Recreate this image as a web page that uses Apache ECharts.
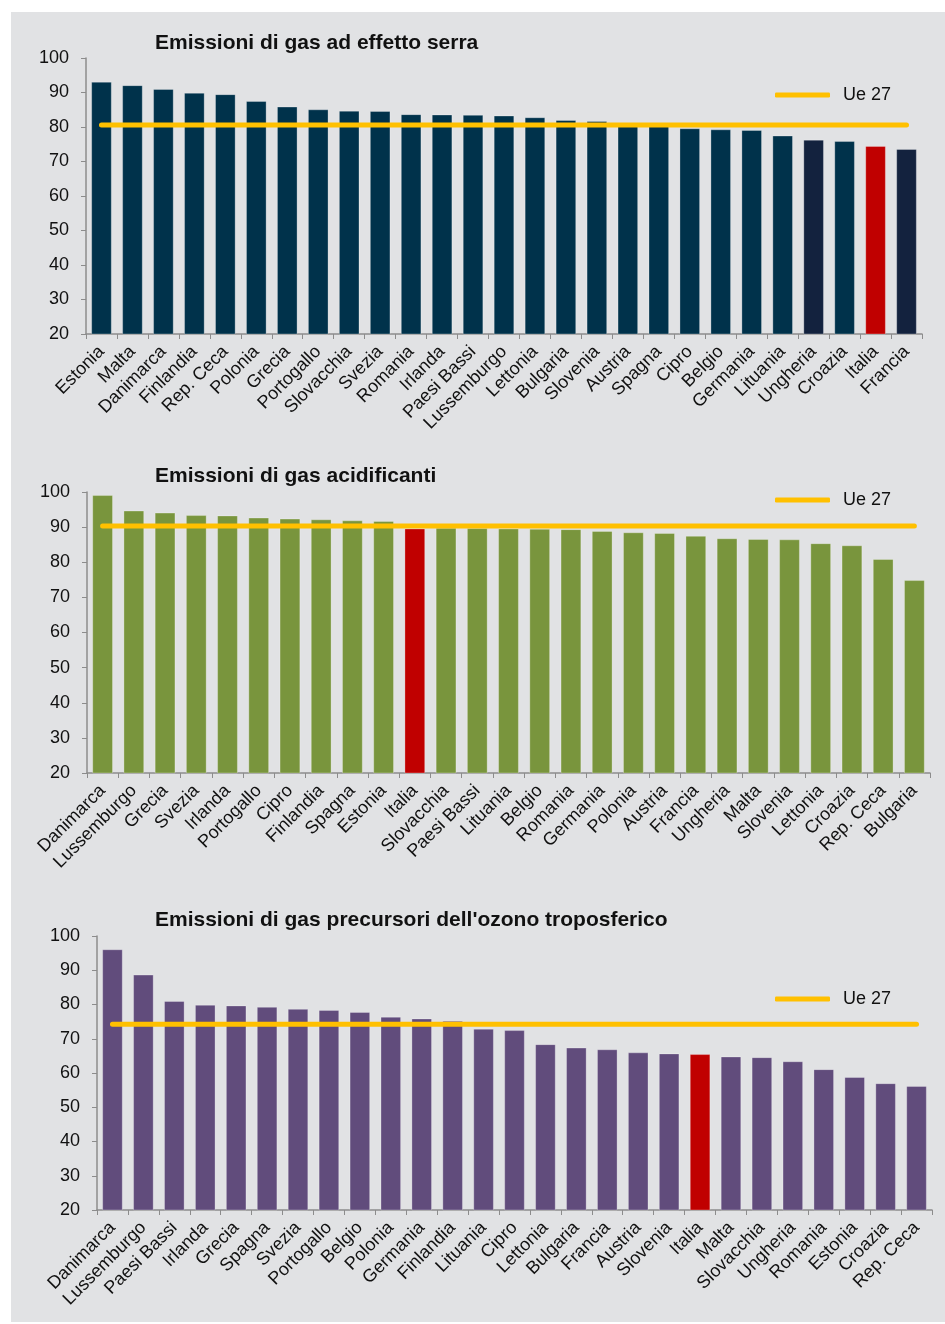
<!DOCTYPE html>
<html>
<head>
<meta charset="utf-8">
<style>
  html, body { margin: 0; padding: 0; background: #fff; }
  #panel { position: absolute; left: 11px; top: 12px; width: 934px; height: 1310px; background: #e1e2e4; }
  #chart { position: absolute; left: 0; top: 0; width: 945px; height: 1324px; }
</style>
<script src="https://cdn.jsdelivr.net/npm/echarts@6/dist/echarts.min.js"></script>
</head>
<body>
<div id="panel"></div>
<div id="chart"></div>
<script>
// Emissioni di gas ad effetto serra
const serraCountries = ['Estonia', 'Malta', 'Danimarca', 'Finlandia', 'Rep. Ceca', 'Polonia', 'Grecia', 'Portogallo', 'Slovacchia', 'Svezia', 'Romania', 'Irlanda', 'Paesi Bassi', 'Lussemburgo', 'Lettonia', 'Bulgaria', 'Slovenia', 'Austria', 'Spagna', 'Cipro', 'Belgio', 'Germania', 'Lituania', 'Ungheria', 'Croazia', 'Italia', 'Francia'];
const serraValues = [93.1, 92.1, 91.0, 89.9, 89.5, 87.5, 85.9, 85.1, 84.7, 84.6, 83.7, 83.6, 83.5, 83.3, 82.8, 82.0, 81.7, 80.7, 80.3, 79.6, 79.3, 79.1, 77.5, 76.3, 75.9, 74.5, 73.6];
const serraUe27 = 80.6;

// Emissioni di gas acidificanti
const acidCountries = ['Danimarca', 'Lussemburgo', 'Grecia', 'Svezia', 'Irlanda', 'Portogallo', 'Cipro', 'Finlandia', 'Spagna', 'Estonia', 'Italia', 'Slovacchia', 'Paesi Bassi', 'Lituania', 'Belgio', 'Romania', 'Germania', 'Polonia', 'Austria', 'Francia', 'Ungheria', 'Malta', 'Slovenia', 'Lettonia', 'Croazia', 'Rep. Ceca', 'Bulgaria'];
const acidValues = [99.1, 94.7, 94.1, 93.4, 93.3, 92.7, 92.4, 92.2, 91.9, 91.7, 89.6, 89.8, 89.7, 89.6, 89.5, 89.4, 88.9, 88.5, 88.3, 87.5, 86.8, 86.6, 86.5, 85.4, 84.8, 80.9, 74.9];
const acidUe27 = 90.3;

// Emissioni di gas precursori dell'ozono troposferico
const ozonoCountries = ['Danimarca', 'Lussemburgo', 'Paesi Bassi', 'Irlanda', 'Grecia', 'Spagna', 'Svezia', 'Portogallo', 'Belgio', 'Polonia', 'Germania', 'Finlandia', 'Lituania', 'Cipro', 'Lettonia', 'Bulgaria', 'Francia', 'Austria', 'Slovenia', 'Italia', 'Malta', 'Slovacchia', 'Ungheria', 'Romania', 'Estonia', 'Croazia', 'Rep. Ceca'];
const ozonoValues = [96.1, 88.7, 81.0, 79.9, 79.7, 79.3, 78.7, 78.4, 77.8, 76.4, 75.9, 75.2, 72.9, 72.5, 68.4, 67.4, 66.9, 66.0, 65.7, 65.5, 64.8, 64.6, 63.4, 61.1, 58.8, 57.0, 56.2];
const ozonoUe27 = 74.2;

const yTicks = { min: 20, max: 100, interval: 10 };

const FONT = 'Liberation Sans, Arial, sans-serif';
const RED = '#c00000';
const YELLOW = '#ffc000';
const NAVY = '#13223e';

const panels = [
  { title: 'Emissioni di gas ad effetto serra', cats: serraCountries, vals: serraValues, ue: serraUe27,
    color: '#00324b', special: { 'Ungheria': NAVY, 'Francia': NAVY },
    grid: { left: 86, right: 23, top: 58, height: 276 }, titleTop: 28, legendTop: 81 },
  { title: 'Emissioni di gas acidificanti', cats: acidCountries, vals: acidValues, ue: acidUe27,
    color: '#79953d', special: {},
    grid: { left: 87, right: 15, top: 492, height: 281 }, titleTop: 461, legendTop: 486 },
  { title: "Emissioni di gas precursori dell'ozono troposferico", cats: ozonoCountries, vals: ozonoValues, ue: ozonoUe27,
    color: '#614c7c', special: {},
    grid: { left: 97, right: 13, top: 936, height: 274 }, titleTop: 905, legendTop: 985 }
];

const option = {
  animation: false,
  textStyle: { fontFamily: FONT },
  title: [], legend: [], grid: [], xAxis: [], yAxis: [], series: []
};

panels.forEach((p, i) => {
  option.title.push({
    text: p.title, left: 150, top: p.titleTop,
    textStyle: { fontFamily: FONT, fontSize: 21, fontWeight: 'bold', color: '#111' }
  });
  option.grid.push(Object.assign({ containLabel: false }, p.grid));
  option.xAxis.push({
    type: 'category', gridIndex: i, data: p.cats,
    axisLine: { lineStyle: { color: '#8c8c8c', width: 1.5 } },
    axisTick: { show: true, alignWithLabel: false, length: 5, lineStyle: { color: '#8c8c8c' } },
    axisLabel: { interval: 0, rotate: 45, margin: 15, fontSize: 18, color: '#111', fontFamily: FONT }
  });
  option.yAxis.push({
    type: 'value', gridIndex: i, min: yTicks.min, max: yTicks.max, interval: yTicks.interval,
    axisLine: { show: true, lineStyle: { color: '#8c8c8c', width: 1.5 } },
    axisTick: { show: true, length: 5, lineStyle: { color: '#8c8c8c' } },
    splitLine: { show: false },
    axisLabel: { fontSize: 18, color: '#111', margin: 17, fontFamily: FONT }
  });
  option.series.push({
    type: 'bar', xAxisIndex: i, yAxisIndex: i, barWidth: '66%',
    data: p.cats.map((c, k) => ({
      value: p.vals[k],
      itemStyle: {
        color: c === 'Italia' ? RED : (p.special[c] || p.color),
        borderColor: 'rgba(255,255,255,0.35)', borderWidth: 0.8
      }
    }))
  });
  option.series.push({
    type: 'line', name: 'Ue 27', xAxisIndex: i, yAxisIndex: i,
    symbol: 'none', z: 5,
    lineStyle: { color: YELLOW, width: 5, cap: 'round' },
    itemStyle: { color: YELLOW },
    data: p.cats.map(() => p.ue)
  });
  option.legend.push({
    data: ['Ue 27'], left: 770, top: p.legendTop, icon: 'roundRect',
    itemWidth: 55, itemHeight: 5, itemGap: 10,
    textStyle: { fontSize: 18, color: '#111', fontFamily: FONT, padding: [0, 0, 0, 8] }
  });
});

const chart = echarts.init(document.getElementById('chart'), null, { renderer: 'canvas' });
chart.setOption(option);
</script>
</body>
</html>
